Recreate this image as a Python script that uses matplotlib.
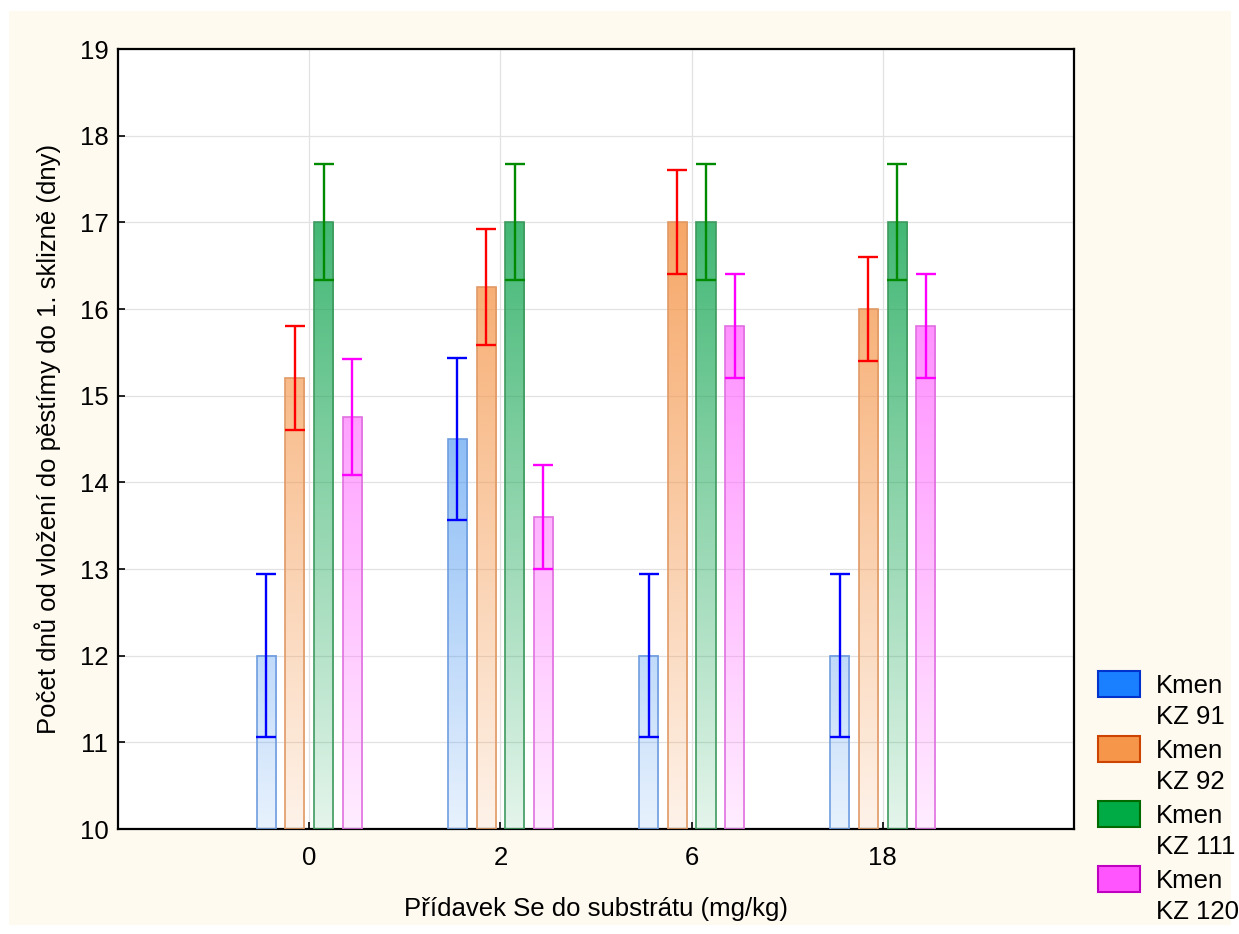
import matplotlib.pyplot as plt
import numpy as np
from matplotlib.patches import Rectangle
from matplotlib.colors import to_rgb

plt.rcParams['font.family'] = ['Liberation Sans', 'DejaVu Sans']

doses = ['0', '2', '6', '18']
strains = ['Kmen\nKZ 91', 'Kmen\nKZ 92', 'Kmen\nKZ 111', 'Kmen\nKZ 120']
means = [
    [12.0, 14.5, 12.0, 12.0],
    [15.2, 16.25, 17.0, 16.0],
    [17.0, 17.0, 17.0, 17.0],
    [14.75, 13.6, 15.8, 15.8],
]
errs = [
    [0.94, 0.94, 0.94, 0.94],
    [0.6, 0.67, 0.6, 0.6],
    [0.67, 0.67, 0.67, 0.67],
    [0.67, 0.6, 0.6, 0.6],
]

fill_cols = ['#3d8ff0', '#f5964a', '#1faa5a', '#ff66ff']
edge_cols = ['#6f9de0', '#e09a66', '#3f9a5f', '#e070e0']
err_cols = ['#0000ff', '#ff0000', '#008a00', '#ff00ff']
leg_face = ['#1a80ff', '#f5964a', '#00aa44', '#ff55ff']
leg_edge = ['#0033cc', '#cc4400', '#006a00', '#c000c0']

ymin, ymax = 10, 19
fig = plt.figure(figsize=(12.39, 9.34), dpi=100)
fig.patch.set_facecolor('white')
fig.patches.append(Rectangle((9 / 1239, 9 / 934), 1222 / 1239, 914 / 934,
                             transform=fig.transFigure, facecolor='#fffaf0',
                             edgecolor='none', zorder=-10))

ax = fig.add_axes([118 / 1239, 105 / 934, 956 / 1239, 780 / 934])
ax.set_facecolor('white')

x = np.arange(len(doses))
w = 0.1
step = 0.15
for k in range(len(strains)):
    pos = x + (k - 1.5) * step
    rgb = to_rgb(fill_cols[k])
    for i, p in enumerate(pos):
        top = means[k][i]
        ys = np.linspace(ymin, top, 200)
        alpha = 0.12 + 0.72 * (ys - ymin) / 7.0
        img = np.zeros((200, 1, 4))
        img[:, 0, :3] = rgb
        img[:, 0, 3] = np.clip(alpha, 0, 1)
        ax.imshow(img, extent=[p - w / 2, p + w / 2, ymin, top], origin='lower',
                  aspect='auto', zorder=2, interpolation='bilinear')
    ax.bar(pos, np.array(means[k]) - ymin, bottom=ymin, width=w, fill=False,
           edgecolor=edge_cols[k], linewidth=1.2, zorder=3)
    ax.errorbar(pos, means[k], yerr=errs[k], fmt='none', ecolor=err_cols[k],
                elinewidth=1.7, capsize=7, capthick=1.7, zorder=4)

ax.set_xlim(-1, 4)
ax.set_ylim(ymin, ymax)
ax.set_xticks(x)
ax.set_xticklabels(doses)
ax.set_yticks(np.arange(10, 20))
ax.grid(True, color='#e2e2e2', linewidth=0.9, zorder=0)
ax.set_axisbelow(True)
ax.tick_params(direction='in', length=5, width=1.2, labelsize=18.5, pad=7)
ax.tick_params(axis='x', pad=12)
for s in ax.spines.values():
    s.set_linewidth(1.6)

ax.set_xlabel('Přídavek Se do substrátu (mg/kg)', fontsize=18.5, labelpad=20)
ax.set_ylabel('Počet dnů od vložení do pěstímy do 1. sklizně (dny)', fontsize=18.5,
              labelpad=13)

# legend
for k, lab in enumerate(strains):
    y0 = 671 + 65 * k
    fig.patches.append(Rectangle((1098 / 1239, 1 - (y0 + 26) / 934), 42 / 1239, 26 / 934,
                                 transform=fig.transFigure, facecolor=leg_face[k],
                                 edgecolor=leg_edge[k], linewidth=1.5))
    l1, l2 = lab.split('\n')
    fig.text(1156 / 1239, 1 - (y0 + 15) / 934, l1, fontsize=18.5, va='center', ha='left')
    fig.text(1156 / 1239, 1 - (y0 + 46) / 934, l2, fontsize=18.5, va='center', ha='left')

fig.savefig('out.png', dpi=100)
